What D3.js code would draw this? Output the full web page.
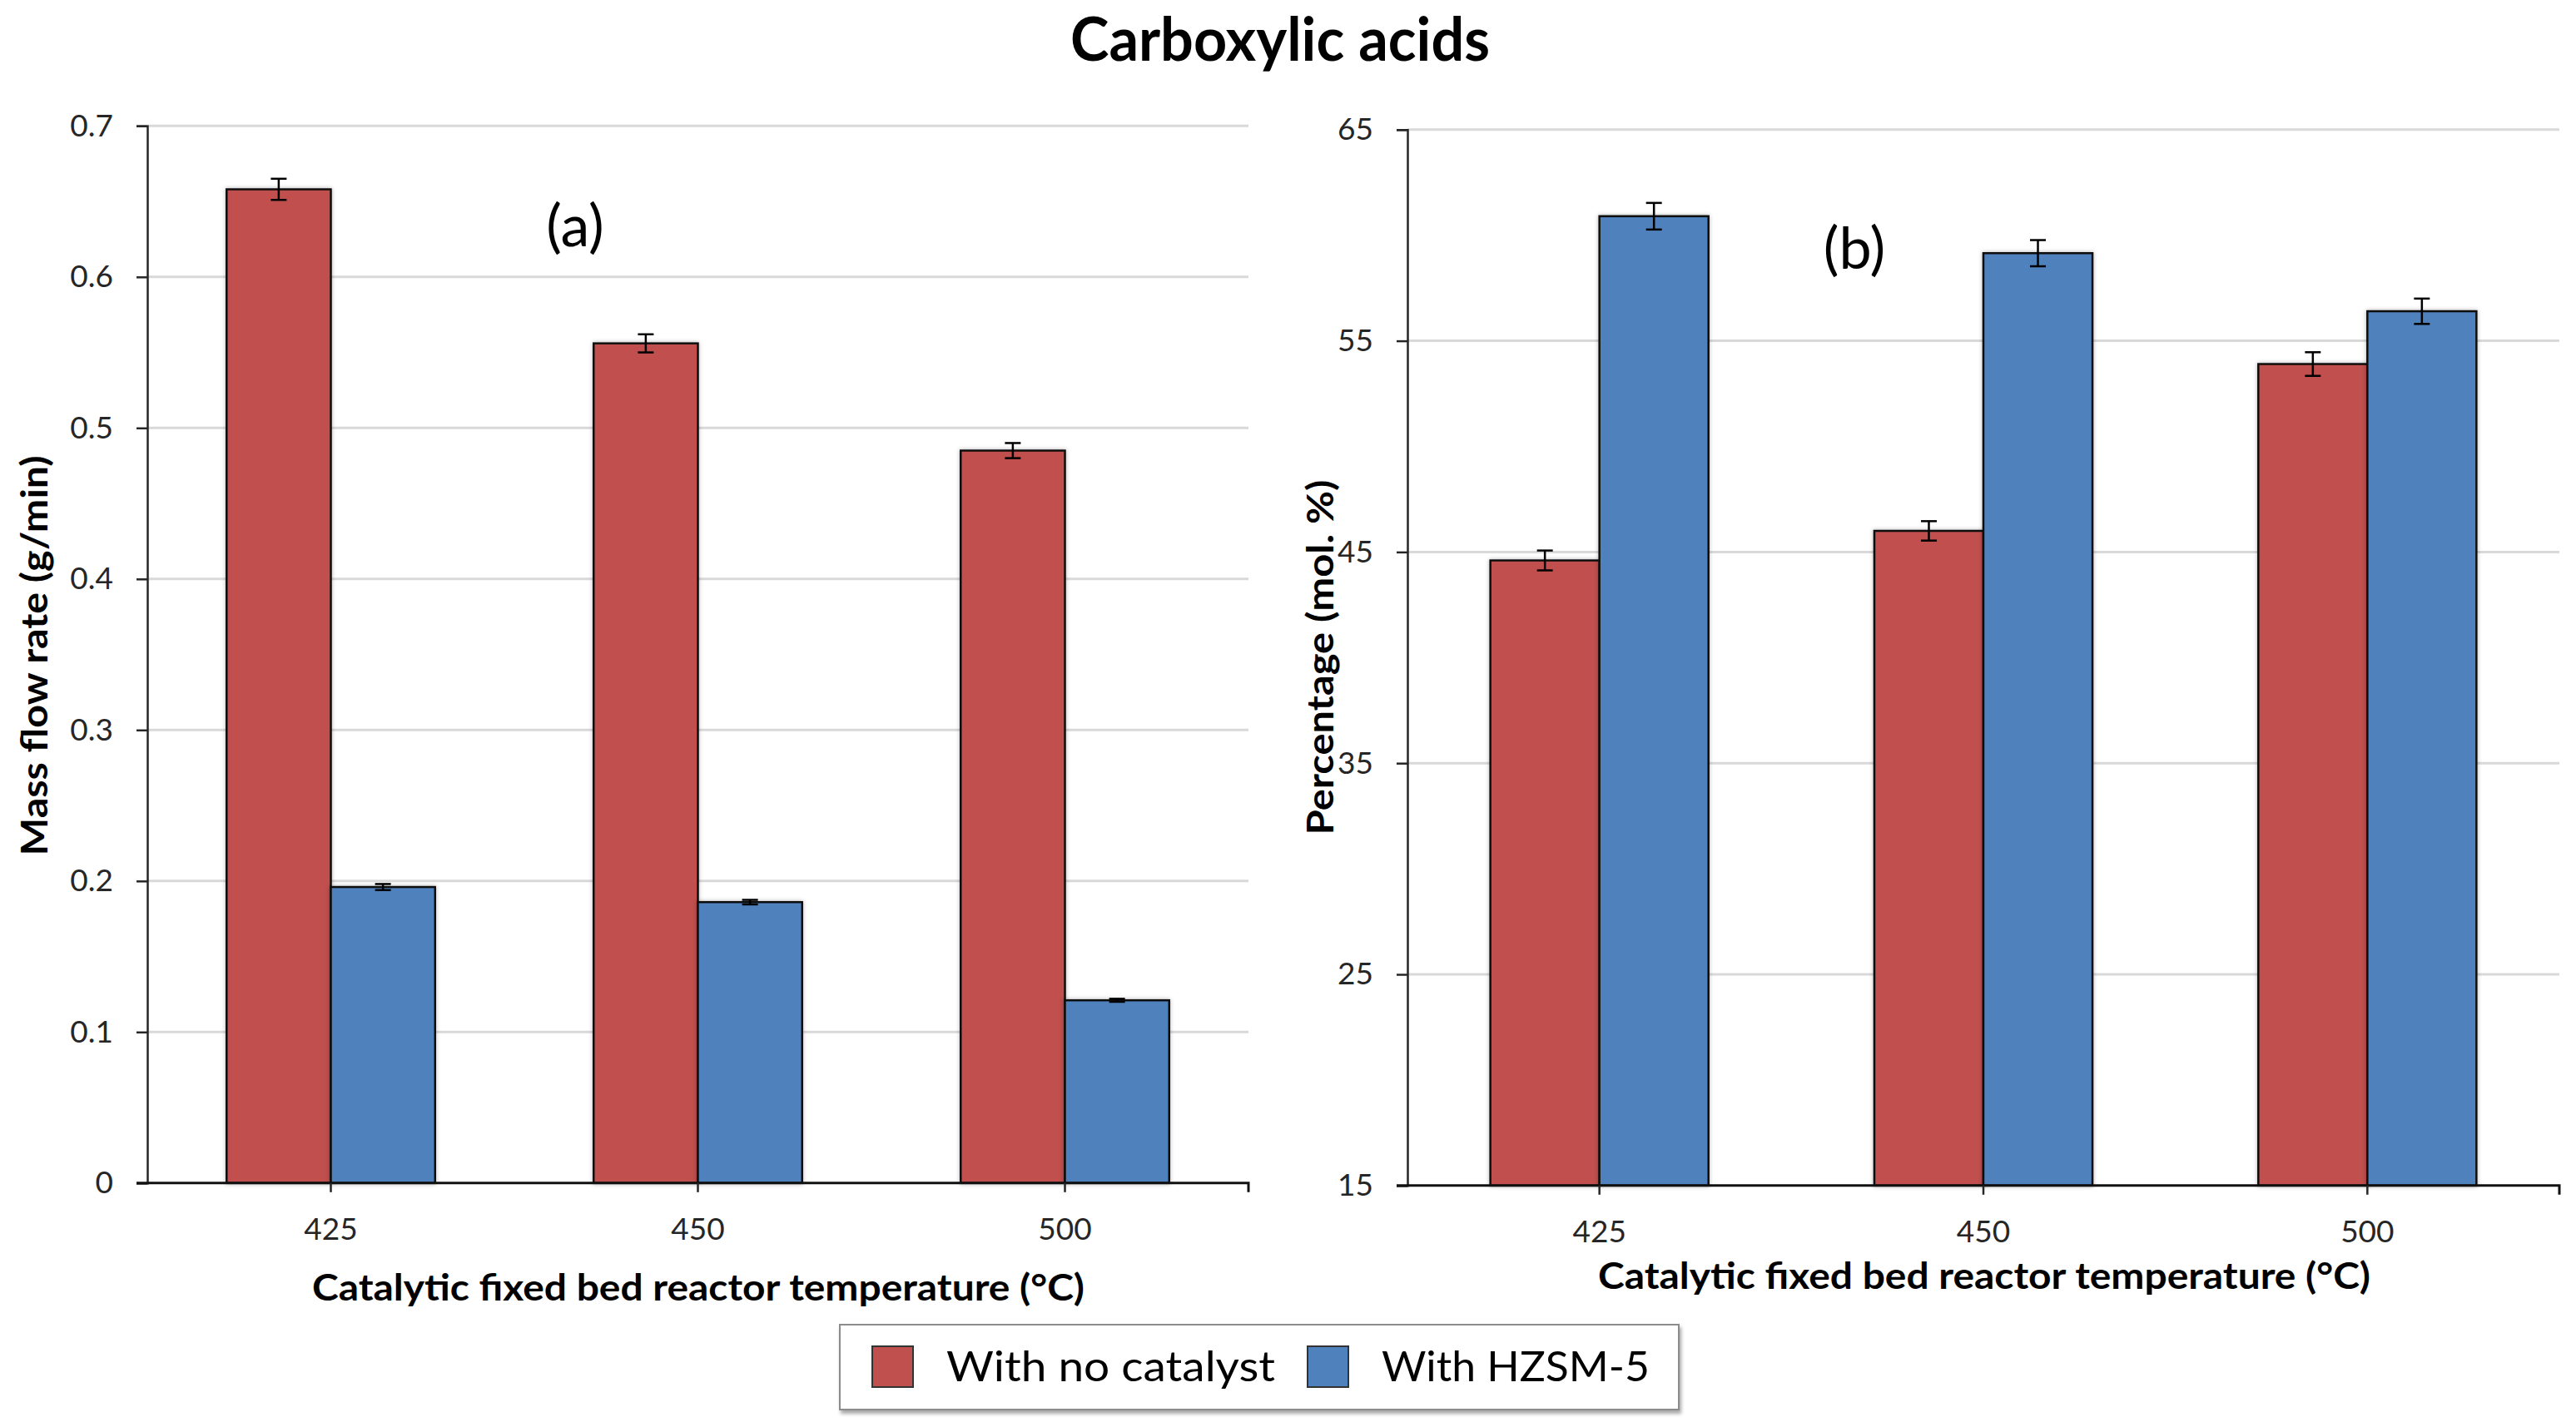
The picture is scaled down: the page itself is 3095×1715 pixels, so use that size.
<!DOCTYPE html>
<html lang="en">

<head>
    <meta charset="utf-8" />
    <title>Carboxylic acids</title>
    <script src="https://cdn.jsdelivr.net/npm/d3@7"></script>
    <style>
        body { margin: 0; background: #fff; }
        text { font-family: Lato, 'Open Sans', sans-serif; }
    </style>
</head>

<body>
    <div id='chart'></div>
</body>
<script>

    // categories and series
    let temps = ['425', '450', '500'];
    let seriesNames = ['With no catalyst', 'With HZSM-5'];
    let colors = ['#c0504d', '#4f81bd'];

    // (a) mass flow rate, g/min
    let massNoCat = [0.658, 0.556, 0.485];
    let massNoCatErr = [0.007, 0.006, 0.005];
    let massHzsm = [0.196, 0.186, 0.121];
    let massHzsmErr = [0.002, 0.0015, 0.001];
    let massTicks = [0, 0.1, 0.2, 0.3, 0.4, 0.5, 0.6, 0.7];

    // (b) percentage, mol. %
    let pctNoCat = [44.6, 46.0, 53.9];
    let pctNoCatErr = [0.47, 0.46, 0.56];
    let pctHzsm = [60.9, 59.15, 56.4];
    let pctHzsmErr = [0.63, 0.62, 0.6];
    let pctTicks = [15, 25, 35, 45, 55, 65];

    let W = 3095, H = 1715;

    let svg = d3.select('#chart')
        .append('svg')
        .attr('width', W)
        .attr('height', H);

    let defs = svg.append('defs');
    defs.append('filter').attr('id', 'barShadow')
        .attr('x', '-20%').attr('y', '-5%').attr('width', '140%').attr('height', '110%')
        .append('feDropShadow')
        .attr('dx', 0).attr('dy', 0).attr('stdDeviation', 2.5)
        .attr('flood-color', '#000').attr('flood-opacity', 0.3);
    defs.append('filter').attr('id', 'boxShadow')
        .attr('x', '-5%').attr('y', '-10%').attr('width', '110%').attr('height', '130%')
        .append('feDropShadow')
        .attr('dx', 2).attr('dy', 4).attr('stdDeviation', 2)
        .attr('flood-color', '#000').attr('flood-opacity', 0.35);

    // title
    svg.append('text')
        .attr('x', 1538).attr('y', 73)
        .attr('text-anchor', 'middle')
        .attr('font-size', 72).attr('font-weight', 'bold')
        .attr('textLength', 504).attr('lengthAdjust', 'spacingAndGlyphs')
        .text('Carboxylic acids');

    function drawPanel(cfg) {
        let x0 = d3.scaleBand()
            .domain(temps)
            .range([cfg.left, cfg.right])
            .paddingInner(0.432)
            .paddingOuter(0.216);
        let x1 = d3.scaleBand()
            .domain([0, 1])
            .range([0, x0.bandwidth()]);
        let y = d3.scaleLinear()
            .domain(cfg.domain)
            .range([cfg.bottom, cfg.top]);

        let g = svg.append('g');

        // gridlines
        g.selectAll('.grid')
            .data(cfg.ticks.slice(1))
            .enter().append('line')
            .attr('class', 'grid')
            .attr('x1', cfg.left).attr('x2', cfg.right)
            .attr('y1', d => y(d)).attr('y2', d => y(d))
            .attr('stroke', '#d9d9d9').attr('stroke-width', 3);

        // y axis
        let yAxis = d3.axisLeft(y)
            .tickValues(cfg.ticks)
            .tickSize(13)
            .tickPadding(28)
            .tickFormat(cfg.format);
        let gy = g.append('g')
            .attr('transform', 'translate(' + cfg.left + ',0)')
            .call(yAxis);
        gy.select('.domain').attr('stroke', '#262626').attr('stroke-width', 2.5);
        gy.selectAll('.tick line').attr('stroke', '#262626').attr('stroke-width', 2.5);
        gy.selectAll('.tick text')
            .attr('font-size', 37).attr('fill', '#262626')
            .style('font-family', 'Lato, sans-serif');

        // bars
        let rows = temps.map((t, i) => ({
            t: t,
            vals: [
                { s: 0, v: cfg.a[i], e: cfg.aErr[i] },
                { s: 1, v: cfg.b[i], e: cfg.bErr[i] }
            ]
        }));

        let groups = g.selectAll('.grp')
            .data(rows)
            .enter().append('g')
            .attr('class', 'grp')
            .attr('transform', d => 'translate(' + x0(d.t) + ',0)');

        groups.selectAll('rect')
            .data(d => d.vals)
            .enter().append('rect')
            .attr('x', d => x1(d.s))
            .attr('width', x1.bandwidth())
            .attr('y', d => y(d.v))
            .attr('height', d => y(cfg.domain[0]) - y(d.v))
            .attr('fill', d => colors[d.s])
            .attr('stroke', '#111')
            .attr('stroke-width', 2.5)
            .attr('filter', 'url(#barShadow)');

        // error bars
        let cap = 9.5;
        let eb = groups.selectAll('.err')
            .data(d => d.vals)
            .enter().append('g')
            .attr('class', 'err')
            .attr('stroke', '#000')
            .attr('stroke-width', 2.5);
        eb.append('line')
            .attr('x1', d => x1(d.s) + x1.bandwidth() / 2)
            .attr('x2', d => x1(d.s) + x1.bandwidth() / 2)
            .attr('y1', d => y(d.v - d.e))
            .attr('y2', d => y(d.v + d.e));
        eb.append('line')
            .attr('x1', d => x1(d.s) + x1.bandwidth() / 2 - cap)
            .attr('x2', d => x1(d.s) + x1.bandwidth() / 2 + cap)
            .attr('y1', d => y(d.v + d.e))
            .attr('y2', d => y(d.v + d.e));
        eb.append('line')
            .attr('x1', d => x1(d.s) + x1.bandwidth() / 2 - cap)
            .attr('x2', d => x1(d.s) + x1.bandwidth() / 2 + cap)
            .attr('y1', d => y(d.v - d.e))
            .attr('y2', d => y(d.v - d.e));

        // x axis
        let xAxis = d3.axisBottom(x0)
            .tickSize(11)
            .tickSizeOuter(0)
            .tickPadding(31);
        let gx = g.append('g')
            .attr('transform', 'translate(0,' + cfg.bottom + ')')
            .call(xAxis);
        gx.select('.domain')
            .attr('d', 'M' + (cfg.left - 13) + ',0H' + cfg.right + 'V11')
            .attr('stroke', '#111').attr('stroke-width', 3).attr('fill', 'none');
        gx.selectAll('.tick line').attr('stroke', '#262626').attr('stroke-width', 2.5);
        gx.selectAll('.tick text')
            .attr('font-size', 37).attr('fill', '#262626')
            .style('font-family', 'Lato, sans-serif');

        // axis titles
        svg.append('text')
            .attr('x', cfg.xTitleX).attr('y', cfg.xTitleY)
            .attr('text-anchor', 'middle')
            .attr('font-size', 44).attr('font-weight', 'bold')
            .attr('textLength', 928).attr('lengthAdjust', 'spacingAndGlyphs')
            .text('Catalytic fixed bed reactor temperature (°C)');

        svg.append('text')
            .attr('transform', 'translate(' + cfg.yTitleX + ',' + cfg.yTitleY + ') rotate(-90)')
            .attr('text-anchor', 'middle')
            .attr('font-size', 44).attr('font-weight', 'bold')
            .attr('textLength', cfg.yTitleLen).attr('lengthAdjust', 'spacingAndGlyphs')
            .text(cfg.yTitle);

        // panel label
        svg.append('text')
            .attr('x', cfg.labelX).attr('y', cfg.labelY)
            .attr('text-anchor', 'middle')
            .attr('font-size', 70)
            .text(cfg.label);
    }

    drawPanel({
        left: 177, right: 1500, top: 151.3, bottom: 1421.8,
        domain: [0, 0.7], ticks: massTicks,
        format: d => d === 0 ? '0' : d3.format('.1f')(d),
        a: massNoCat, aErr: massNoCatErr, b: massHzsm, bErr: massHzsmErr,
        xTitleX: 839, xTitleY: 1563,
        yTitle: 'Mass flow rate (g/min)', yTitleX: 57, yTitleY: 788, yTitleLen: 481,
        label: '(a)', labelX: 691, labelY: 296
    });

    drawPanel({
        left: 1691, right: 3075, top: 155.8, bottom: 1424.8,
        domain: [15, 65], ticks: pctTicks,
        format: d3.format('d'),
        a: pctNoCat, aErr: pctNoCatErr, b: pctHzsm, bErr: pctHzsmErr,
        xTitleX: 2384, xTitleY: 1549,
        yTitle: 'Percentage (mol. %)', yTitleX: 1602, yTitleY: 790, yTitleLen: 427,
        label: '(b)', labelX: 2228, labelY: 323
    });

    // legend
    let lg = svg.append('g');
    lg.append('rect')
        .attr('x', 1009).attr('y', 1592)
        .attr('width', 1008).attr('height', 102)
        .attr('fill', '#fff')
        .attr('stroke', '#8c8c8c').attr('stroke-width', 2)
        .attr('filter', 'url(#boxShadow)');

    let legendX = [1048, 1571];
    let legendTextLen = [395, 322];
    let items = lg.selectAll('.item')
        .data(seriesNames)
        .enter().append('g')
        .attr('class', 'item')
        .attr('transform', (d, i) => 'translate(' + legendX[i] + ',0)');
    items.append('rect')
        .attr('x', 0).attr('y', 1618)
        .attr('width', 49).attr('height', 49)
        .attr('fill', (d, i) => colors[i])
        .attr('stroke', '#333').attr('stroke-width', 2);
    items.append('text')
        .attr('x', 89).attr('y', 1660)
        .attr('font-size', 50)
        .attr('textLength', (d, i) => legendTextLen[i]).attr('lengthAdjust', 'spacingAndGlyphs')
        .text(d => d);

</script>

</html>
